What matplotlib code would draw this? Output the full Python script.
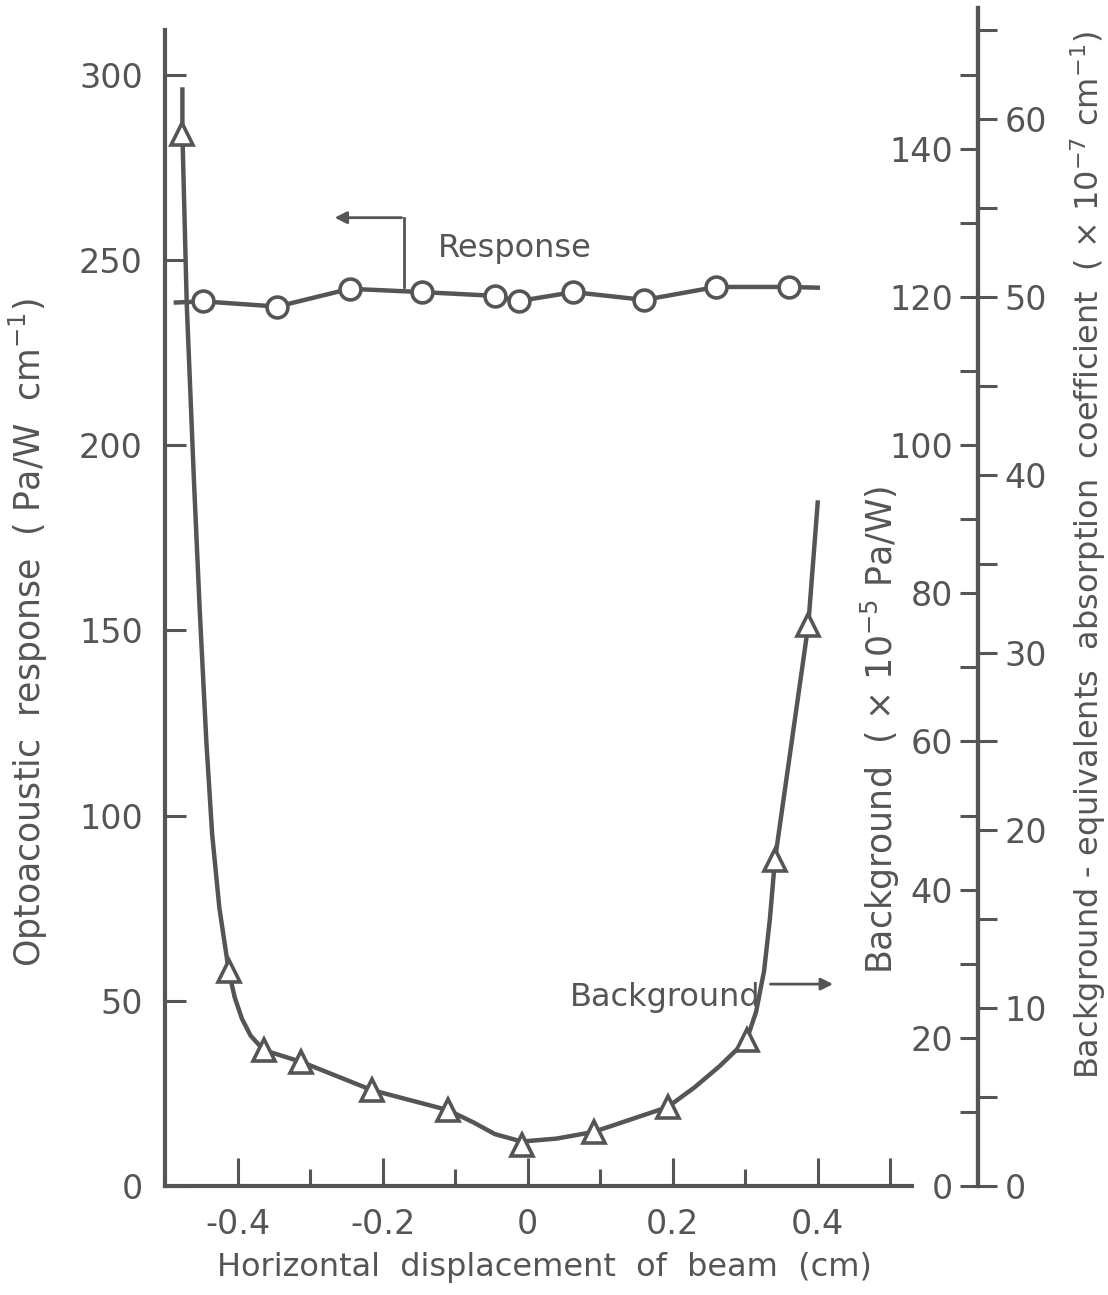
import numpy as np
import matplotlib.pyplot as plt
from matplotlib.ticker import MultipleLocator, FixedLocator

# Response (left axis, Pa/W cm^-1) - circles
resp_x = [-0.447, -0.345, -0.245, -0.145, -0.045, -0.012, 0.063, 0.161, 0.260, 0.360]
resp_y = [238.8, 237.4, 242.2, 241.3, 240.3, 238.9, 241.3, 239.2, 242.7, 242.7]
# the drawn response line runs a little past the first/last circle
resp_line_x = [-0.485] + resp_x + [0.400]
resp_line_y = [238.5] + resp_y + [242.5]

# Background (x10^-5 Pa/W, right axis) - triangles
bg_x = [-0.476, -0.412, -0.364, -0.312, -0.215, -0.110, -0.008, 0.091, 0.193, 0.302, 0.341, 0.387]
bg_y = [142.0, 29.0, 18.35, 16.75, 12.95, 10.25, 5.5, 7.3, 10.65, 19.7, 44.0, 75.75]
# hand-drawn background curve
bg_curve_x = [-0.476, -0.476, -0.470, -0.460, -0.452, -0.443, -0.435, -0.425, -0.412,
              -0.404, -0.394, -0.382, -0.364, -0.312, -0.215, -0.110, -0.075, -0.045,
              -0.008, 0.040, 0.091, 0.193, 0.230, 0.265, 0.302, 0.315, 0.326, 0.334,
              0.341, 0.387, 0.400]
bg_curve_y = [148.0, 142.0, 119.0, 95.0, 77.5, 60.0, 47.5, 37.5, 29.0,
              25.5, 22.6, 20.3, 18.35, 16.75, 12.95, 10.25, 8.6, 7.0,
              6.0, 6.4, 7.3, 10.65, 13.3, 16.2, 19.7, 23.5, 29.0, 36.0,
              44.0, 75.75, 92.25]

# background -> equivalent absorption coefficient (x10^-7 cm^-1)
coef_factor = 2.4

x_major = [-0.4, -0.2, 0.0, 0.2, 0.4, 0.5]
x_major_labels = ['-0.4', '-0.2', '0', '0.2', '0.4', '']
x_minor = [-0.3, -0.1, 0.1, 0.3]
y_left_ticks = [0, 50, 100, 150, 200, 250, 300]

c = '#555555'
plt.rcParams['font.family'] = ['DejaVu Sans']
plt.rcParams['text.color'] = c
plt.rcParams['axes.labelcolor'] = c
plt.rcParams['xtick.color'] = c
plt.rcParams['ytick.color'] = c

W, H = 1108, 1295
px_left, px_right = 165, 978
px_bot, px_top = 1186, 8
y_top = 318.0

fig = plt.figure(figsize=(W / 100, H / 100), dpi=100)
ax = fig.add_axes([px_left / W, 1 - px_bot / H, (px_right - px_left) / W, (px_bot - px_top) / H])
ax.patch.set_visible(False)
ax.set_xlim(-0.5, 0.621)
ax.set_ylim(0, y_top)
for s in ['top', 'right']:
    ax.spines[s].set_visible(False)
for s in ['left', 'bottom']:
    ax.spines[s].set_linewidth(3)
    ax.spines[s].set_color(c)
ax.spines['bottom'].set_bounds(-0.5, 0.53)
ax.spines['left'].set_bounds(0, 312)

ax.xaxis.set_major_locator(FixedLocator(x_major))
ax.set_xticklabels(x_major_labels)
ax.xaxis.set_minor_locator(FixedLocator(x_minor))
ax.set_yticks(y_left_ticks)
ax.tick_params(axis='x', which='major', direction='in', length=20, width=2.2, labelsize=24, pad=16)
ax.tick_params(axis='x', which='minor', direction='in', length=12, width=2.2)
ax.tick_params(axis='y', direction='in', length=15, width=2.2, labelsize=24, pad=16)

ax.set_xlabel('Horizontal  displacement  of  beam  (cm)', fontsize=23)
ax.xaxis.set_label_coords(0.467, -0.056)
ax.set_ylabel('Optoacoustic  response  ( Pa/W  cm$^{-1}$)', fontsize=25)
ax.yaxis.set_label_coords(-0.142, 0.47)

# response
ax.plot(resp_line_x, resp_line_y, color=c, lw=3.2, zorder=2)
ax.plot(resp_x, resp_y, 'o', ms=15, mfc='white', mec=c, mew=2.6, zorder=3)

# background on its own scale
axb = ax.twinx()
axb.set_ylim(0, y_top / 2)
axb.set_axis_off()
axb.plot(bg_curve_x, bg_curve_y, color=c, lw=3.2, zorder=2)
axb.plot(bg_x, bg_y, '^', ms=16, mfc='white', mec=c, mew=2.6, zorder=3)

# annotations
ax.plot([-0.170, -0.170], [242.8, 261.4], color=c, lw=2)
ax.annotate('', xy=(-0.270, 261.4), xytext=(-0.170, 261.4),
            arrowprops=dict(arrowstyle='-|>', color=c, lw=2, mutation_scale=18))
ax.text(-0.018, 253, 'Response', fontsize=23, ha='center', va='center')
ax.text(0.189, 51, 'Background', fontsize=23, ha='center', va='center')
ax.annotate('', xy=(0.425, 54.5), xytext=(0.331, 54.5),
            arrowprops=dict(arrowstyle='-|>', color=c, lw=2, mutation_scale=18))

# detached right scales
sc = fig.add_axes([px_right / W, 1 - px_bot / H, 0.0001, (px_bot - px_top) / H])
sc.patch.set_visible(False)
sc.set_ylim(0, y_top / 2)
sc.set_xticks([])
for s in ['top', 'bottom', 'right']:
    sc.spines[s].set_visible(False)
sc.spines['left'].set_linewidth(3)
sc.spines['left'].set_color(c)
sc.yaxis.set_major_locator(FixedLocator(np.arange(0, 141, 20)))
sc.yaxis.set_minor_locator(FixedLocator(np.arange(10, 151, 20)))
sc.tick_params(axis='y', which='both', direction='out', length=13, width=2.2, labelsize=24, pad=5)

sc2 = sc.twinx()
sc2.set_ylim(0, y_top / 2 / coef_factor)
for s in ['top', 'bottom', 'left']:
    sc2.spines[s].set_visible(False)
sc2.spines['right'].set_linewidth(3)
sc2.spines['right'].set_color(c)
sc2.yaxis.set_major_locator(MultipleLocator(10))
sc2.yaxis.set_minor_locator(FixedLocator(np.arange(5, 66, 10)))
sc2.tick_params(axis='y', which='both', direction='out', length=14, width=2.2, labelsize=24, pad=5)
sc2.set_ylim(0, y_top / 2 / coef_factor)

fig.text(880 / W, 1 - 730 / H, 'Background  ( × 10$^{-5}$ Pa/W)', rotation=90,
         fontsize=25, ha='center', va='center')
fig.text(1088 / W, 1 - 555 / H,
         'Background - equivalents  absorption  coefficient  ( × 10$^{-7}$ cm$^{-1}$)',
         rotation=90, fontsize=23, ha='center', va='center')

fig.savefig('out.png', dpi=100, facecolor='white')
